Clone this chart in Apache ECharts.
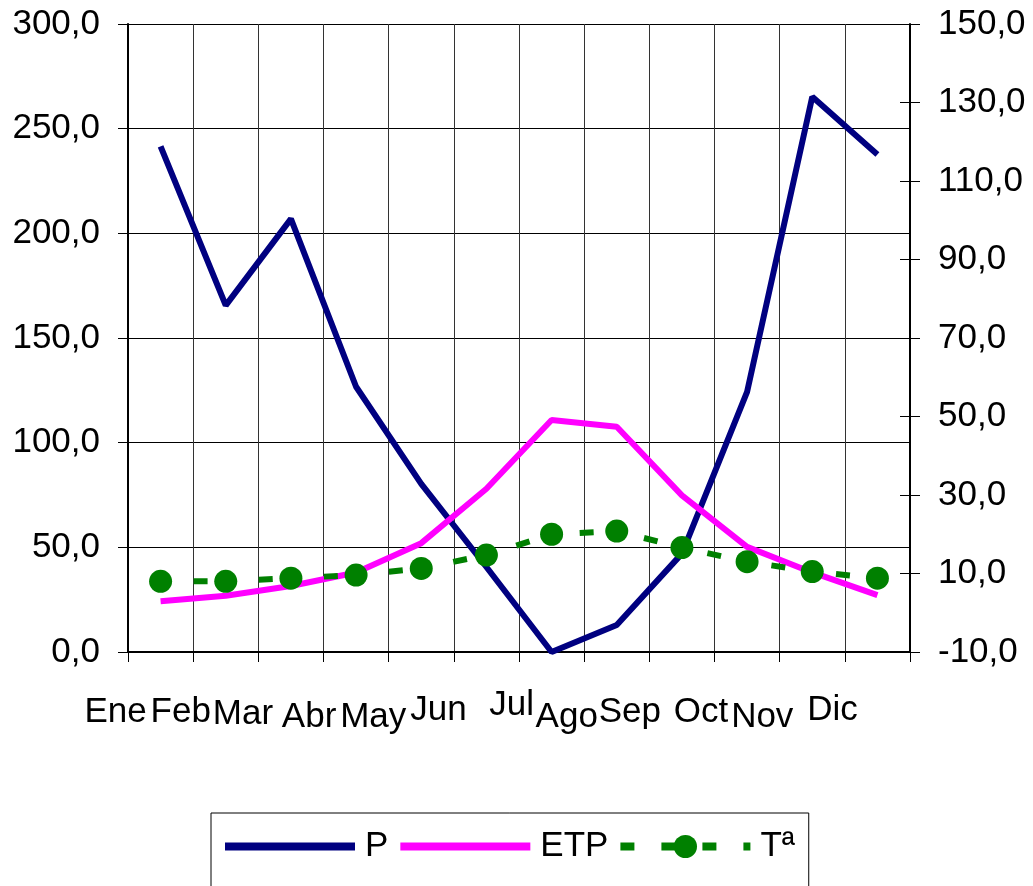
<!DOCTYPE html>
<html>
<head>
<meta charset="utf-8">
<title>P, ETP y Tª</title>
<script src="https://cdn.jsdelivr.net/npm/echarts@6/dist/echarts.min.js"></script>
<style>
  html, body { margin: 0; padding: 0; background: #fff; }
  #chart { width: 1033px; height: 886px; }
</style>
</head>
<body>
<div id="chart"></div>
<script>
// datos mensuales
const meses = ['Ene', 'Feb', 'Mar', 'Abr', 'May', 'Jun', 'Jul', 'Ago', 'Sep', 'Oct', 'Nov', 'Dic'];
const precipitacion = [241.5, 165.6, 206.9, 126.7, 80.3, 40.6, 0, 12.9, 47, 124.3, 265.2, 237.7];
const etp = [24.2, 26.9, 31.5, 38, 52, 78, 110.8, 107.6, 74.8, 50.2, 38, 27.2];
const temperatura = [8.0, 8.0, 8.8, 9.6, 11.3, 14.7, 20.0, 20.8, 16.6, 13.0, 10.5, 8.8];

// desplazamiento de cada etiqueta del eje X (px), como sale en la hoja original
const labelDx = [-45, -45, -48, -47, -48, -48, -40, -50, -52, -46, -50, -45];
const labelDy = [0, 0, 2, 5, 5, -2, -7, 5, 0, 0, 5, -2];

const fuente = "'Liberation Sans', Arial, sans-serif";
const fmt = v => v.toFixed(1).replace('.', ',');

// un estilo rich por mes para poder mover cada etiqueta
const rich = {};
meses.forEach((m, i) => {
    rich['m' + i] = {
        fontSize: 35,
        fontFamily: fuente,
        color: '#000',
        padding: [labelDy[i] + 7, -2 * labelDx[i], 0, 0]
    };
});

const myChart = echarts.init(document.getElementById('chart'));

const ejeDerecho = {
    type: 'value',
    min: -10,
    max: 150,
    interval: 20,
    position: 'right'
};

const option = {
    animation: false,
    grid: { left: 128, right: 123, top: 24, bottom: 234, outerBoundsMode: 'none' },
    legend: {
        data: [
            { name: 'P', itemStyle: { opacity: 0 } },
            { name: 'ETP', itemStyle: { opacity: 0 } },
            { name: 'Tª', lineStyle: { type: [14, 27] } }
        ],
        left: 211,
        top: 813,
        itemWidth: 130,
        itemHeight: 29,
        itemGap: 8,
        padding: [16, 14, 60, 10],
        borderColor: '#000',
        borderWidth: 1,
        backgroundColor: '#fff',
        lineStyle: { width: 8 },
        textStyle: { fontSize: 35, fontFamily: fuente, color: '#000', padding: [0, 0, 0, 5] }
    },
    xAxis: {
        type: 'category',
        data: meses,
        boundaryGap: true,
        axisLine: { lineStyle: { color: '#000', width: 2 } },
        axisTick: { show: true, length: 10, lineStyle: { color: '#000', width: 1 } },
        splitLine: { show: true, lineStyle: { color: '#333', width: 1 } },
        axisLabel: {
            interval: 0,
            margin: 36,
            formatter: value => '{m' + meses.indexOf(value) + '|' + value + '}',
            rich: rich
        }
    },
    yAxis: [
        {
            type: 'value',
            min: 0,
            max: 300,
            interval: 50,
            position: 'left',
            axisLine: { show: true, lineStyle: { color: '#000', width: 2 } },
            axisTick: { show: true, length: 10, lineStyle: { color: '#000' } },
            splitLine: { show: true, lineStyle: { color: '#000', width: 1 } },
            axisLabel: { formatter: fmt, fontSize: 35, fontFamily: fuente, color: '#000', margin: 28 }
        },
        Object.assign({}, ejeDerecho, {
            axisLine: { show: true, lineStyle: { color: '#000', width: 2 } },
            axisTick: { show: true, length: 10, lineStyle: { color: '#000' } },
            splitLine: { show: false },
            axisLabel: { formatter: fmt, fontSize: 35, fontFamily: fuente, color: '#000', margin: 28 }
        }),
        // solo para las marcas hacia dentro del eje derecho
        Object.assign({}, ejeDerecho, {
            axisLine: { show: false },
            axisTick: { show: true, inside: true, length: 10, lineStyle: { color: '#000' } },
            splitLine: { show: false },
            axisLabel: { show: false }
        })
    ],
    series: [
        {
            name: 'P',
            type: 'line',
            yAxisIndex: 0,
            data: precipitacion,
            symbol: 'none',
            color: '#000080',
            lineStyle: { color: '#000080', width: 6 }
        },
        {
            name: 'ETP',
            type: 'line',
            yAxisIndex: 0,
            data: etp,
            symbol: 'none',
            color: '#ff00ff',
            lineStyle: { color: '#ff00ff', width: 6 }
        },
        {
            name: 'Tª',
            type: 'line',
            yAxisIndex: 1,
            data: temperatura,
            symbol: 'circle',
            symbolSize: 23,
            showAllSymbol: true,
            color: '#008000',
            itemStyle: { color: '#008000' },
            lineStyle: { color: '#008000', width: 6, type: [0, 33, 14, 18.2] }
        }
    ]
};

option && myChart.setOption(option);
</script>
</body>
</html>
